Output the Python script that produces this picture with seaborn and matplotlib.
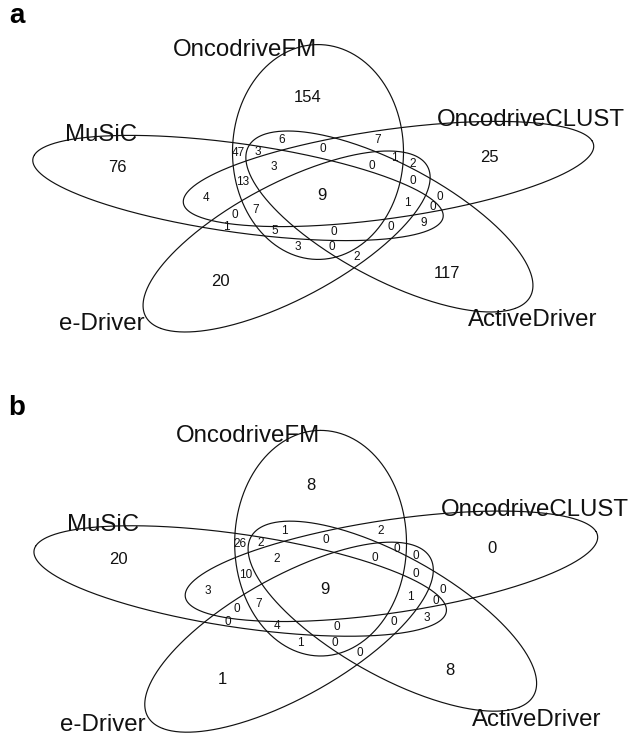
import numpy as np
import pandas as pd
import matplotlib
matplotlib.use("Agg")
import matplotlib.pyplot as plt
import seaborn as sns
from matplotlib import font_manager

# ------------------------------------------------------------------ data
set_codes = ["F", "C", "A", "E", "M"]
set_names = ["OncodriveFM", "OncodriveCLUST", "ActiveDriver", "e-Driver", "MuSiC"]
# region = combination of sets (F=OncodriveFM, C=OncodriveCLUST, A=ActiveDriver,
# E=e-Driver, M=MuSiC)
region_codes = ["F", "FA", "FM", "FMA", "FCA", "FC", "FMAC", "FCAE", "FCE", "CE",
                "FMC", "CAE", "MC", "FCAEM", "CA", "CAEM", "CAM", "MCE", "FMCE",
                "AM", "ME", "FME", "FMEA", "MAE", "FE", "FEA", "EA",
                "A", "E", "M", "C"]
counts_a = [154, 6, 47, 3, 0, 7, 3, 0, 1, 2,
            13, 0, 4, 9, 0, 1, 0, 0, 7,
            9, 1, 5, 0, 0, 3, 0, 2,
            117, 20, 76, 25]
counts_b = [8, 1, 26, 2, 0, 2, 2, 0, 0, 0,
            10, 0, 3, 9, 0, 1, 0, 0, 7,
            3, 0, 4, 0, 0, 1, 0, 0,
            8, 1, 20, 0]
panel_tags = ["a", "b"]

# ------------------------------------------------------------------ layout
ELL_A, ELL_B, SQUASH = 85.5, 214.0, 0.502      # ellipse semi-axes, vertical squash
ellipse_layout = {                              # centre x, centre y, axis angle
    "F": (318.0, 152.0, 90),
    "C": (388.5, 174.0, 18),
    "A": (389.4, 221.5, -54),
    "E": (286.6, 241.5, -126),
    "M": (238.0, 188.0, 162),
}
label_xy = {
    "F": (308, 97), "FA": (282, 140), "FM": (238, 153), "FMA": (258, 152),
    "FCA": (323, 149), "FC": (378, 140), "FMAC": (274, 167), "FCAE": (372, 166),
    "FCE": (394, 158), "CE": (413, 164), "FMC": (243, 182), "CAE": (413, 181),
    "MC": (206, 198), "FCAEM": (322, 196), "CA": (440, 197), "CAEM": (407, 203),
    "CAM": (433, 207), "MCE": (235, 215), "FMCE": (256, 210), "AM": (424, 223),
    "ME": (226, 227), "FME": (275, 231), "FMEA": (334, 232), "MAE": (391, 227),
    "FE": (298, 247), "FEA": (332, 247), "EA": (357, 257),
    "A": (447, 273), "E": (220, 282), "M": (117, 168), "C": (489, 157),
}
set_label_xy = {"F": (245.5, 56), "C": (531, 126), "A": (533, 325.7),
                "E": (101.5, 330.5), "M": (101, 140.7)}
big_regions = {"F", "C", "A", "E", "M", "FCAEM"}

W, H = 631, 736
PANEL_H = 368
# panel boxes in figure pixels: (x0, y0_top, x-scale, y-scale)
panel_boxes = [(0.0, 0.0, 1.0, 1.0), (1.0, 383.6, 1.005, 1.05)]
tag_xy = [(9, 23), (8, 415)]

# ------------------------------------------------------------------ style
sns.set_theme(style="white")
plt.rcParams["font.family"] = ["Liberation Sans", "DejaVu Sans"]


def has_font(name):
    try:
        font_manager.findfont(font_manager.FontProperties(family=name),
                              fallback_to_default=False)
        return True
    except Exception:
        return False


if has_font("Liberation Sans Narrow"):
    num_family, big_fs, small_fs = ["Liberation Sans Narrow", "Liberation Sans"], 13.5, 9.5
else:
    num_family, big_fs, small_fs = ["Liberation Sans", "DejaVu Sans"], 12, 8.5

# ellipse outlines
t = np.linspace(0, 2 * np.pi, 500)
parts = []
for code, (cx, cy, ang) in ellipse_layout.items():
    th = np.deg2rad(ang)
    u = ELL_B * np.cos(t) * np.cos(th) - ELL_A * np.sin(t) * np.sin(th)
    v = ELL_B * np.cos(t) * np.sin(th) + ELL_A * np.sin(t) * np.cos(th)
    parts.append(pd.DataFrame({"x": cx + u, "y": cy - SQUASH * v, "set": code}))
outline = pd.concat(parts, ignore_index=True)

fig = plt.figure(figsize=(W / 100, H / 100), dpi=100)
fig.patch.set_facecolor("white")

for p, counts in enumerate([counts_a, counts_b]):
    x0, y0, sx, sy = panel_boxes[p]
    left = x0 / W
    width = W * sx / W
    height = PANEL_H * sy / H
    bottom = 1 - (y0 + PANEL_H * sy) / H
    ax = fig.add_axes([left, bottom, width, height])
    ax.patch.set_alpha(0)
    sns.lineplot(data=outline, x="x", y="y", units="set", estimator=None,
                 sort=False, color="#111111", lw=0.85, ax=ax, legend=False)
    ax.set_xlim(0, W)
    ax.set_ylim(PANEL_H, 0)
    ax.set_axis_off()

    for code, val in zip(region_codes, counts):
        x, y = label_xy[code]
        big = code in big_regions
        ax.text(x, y, str(val), ha="center", va="center",
                fontsize=big_fs if big else small_fs, family=num_family,
                color="#111111", clip_on=False)

    for code, name in zip(set_codes, set_names):
        x, y = set_label_xy[code]
        ax.text(x, y, name, ha="center", va="baseline", fontsize=17.3,
                color="#111111", clip_on=False)

    tx, ty = tag_xy[p]
    fig.text(tx / W, 1 - ty / H, panel_tags[p], ha="left", va="baseline",
             fontsize=20, fontweight="bold", color="black")

fig.savefig("out.png", dpi=100, facecolor="white")
